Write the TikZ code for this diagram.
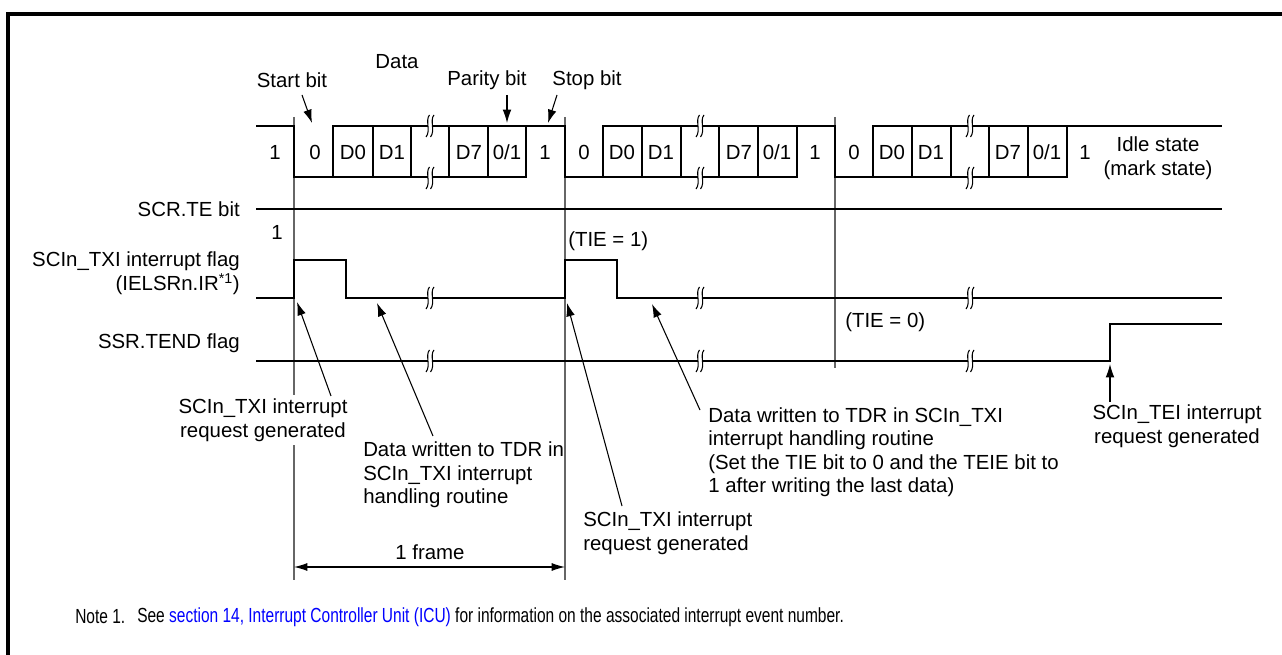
\documentclass[tikz,border=0pt]{standalone}
\usepackage{fontspec}
\setmainfont{Liberation Sans}
\newfontfamily\notefont[FakeStretch=0.76]{Liberation Sans}
\usetikzlibrary{arrows.meta}
\definecolor{linkblue}{RGB}{0,0,255}
\tikzset{
  wave/.style={line width=1.5pt, line cap=rect},
  marker/.style={line width=0.8pt, black!60},
  arr/.style={line width=0.8pt, -{Latex[length=10pt,width=6.5pt]}},
  dimarr/.style={line width=0.8pt, {Latex[length=10pt,width=6pt]}-{Latex[length=10pt,width=6pt]}},
  txt/.style={inner sep=0pt, font=\fontsize{15.3}{17.6}\selectfont},
  brk/.pic={
    \fill[white] (-2.1,-3) rectangle (2.5,3);
    \draw[line width=0.8pt] (-0.5,-11) .. controls (-5,-6) and (1,5) .. (-4,11);
    \draw[line width=0.8pt] (4,-11) .. controls (-0.5,-6) and (5.5,5) .. (0.5,11);
  }
}
\begin{document}
\begin{tikzpicture}[x=0.75pt,y=-0.75pt]
\useasboundingbox (0,0) rectangle (1282,655);
% frame (top and left edges)
\draw[line width=2.3pt] (8,655) -- (8,14) -- (1282,14);

% marker verticals
\draw[marker] (294,117) -- (294,580);
\draw[marker] (565,117) -- (565,580);
\draw[marker] (835,117) -- (835,368);

% ===== TxD waveform =====
% frame 1
\draw[wave] (257,126) -- (294,126) -- (294,177) -- (526,177);
\draw[wave] (333,126) -- (565,126) -- (565,177);
\foreach \x in {333,373,411,449,488,526} \draw[wave] (\x,126) -- (\x,177);
% frame 2
\draw[wave] (565,177) -- (797,177);
\draw[wave] (603,126) -- (835,126) -- (835,177);
\foreach \x in {603,642,681,719,758,797} \draw[wave] (\x,126) -- (\x,177);
% frame 3
\draw[wave] (835,177) -- (1067,177);
\draw[wave] (873,126) -- (1221,126);
\foreach \x in {873,912,951,989,1028,1067} \draw[wave] (\x,126) -- (\x,177);
% break marks on TxD
\foreach \x in {430,700,970} {
  \pic at (\x,126) {brk};
  \pic at (\x,178) {brk};
}

% bit texts
\node[txt] (b1a) at (275,152) {1};
\node[txt] (b0a) at (315,152) {0};
\node[txt] (d0a) at (353,152) {D0};
\node[txt] (d1a) at (392,152) {D1};
\node[txt] (d7a) at (469,152) {D7};
\node[txt] (pa) at (507,152) {0/1};
\node[txt] (sa) at (545,152) {1};
\node[txt] (b0b) at (584,152) {0};
\node[txt] (d0b) at (622,152) {D0};
\node[txt] (d1b) at (661,152) {D1};
\node[txt] (d7b) at (739,152) {D7};
\node[txt] (pb) at (777,152) {0/1};
\node[txt] (sb) at (815,152) {1};
\node[txt] (b0c) at (854,152) {0};
\node[txt] (d0c) at (892,152) {D0};
\node[txt] (d1c) at (931,152) {D1};
\node[txt] (d7c) at (1008,152) {D7};
\node[txt] (pc) at (1047,152) {0/1};
\node[txt] (sc) at (1085,152) {1};
\node[txt, align=center] (idle) at (1158,158) {Idle state\\(mark state)};

% top labels
\node[txt] (data) at (397,62) {Data};
\node[txt] (startbit) at (292,80) {Start bit};
\node[txt] (paritybit) at (487,80) {Parity bit};
\node[txt] (stopbit) at (587,80) {Stop bit};
\coordinate (sb1) at (302,95); \coordinate (sb2) at (312,123);
\coordinate (pb1) at (507,95); \coordinate (pb2) at (507,123);
\coordinate (st1) at (557,95); \coordinate (st2) at (548,123);
\draw[arr] (sb1) -- (sb2);
\draw[arr] (pb1) -- (pb2);
\draw[arr] (st1) -- (st2);

% ===== SCR.TE =====
\node[txt, anchor=east] (scrte) at (240,209) {SCR.TE bit};
\draw[wave, line width=1.1pt] (257,209) -- (1221,209);
\node[txt] (one) at (277,232) {1};

% ===== TXI flag =====
\node[txt, anchor=east, align=right] (txi) at (240,273) {SCIn\_TXI interrupt flag\\(IELSRn.IR\textsuperscript{*1})};
\draw[wave] (257,298) -- (294,298) -- (294,260) -- (346,260) -- (346,298) -- (565,298) -- (565,260) -- (617,260) -- (617,298) -- (1221,298);
\node[txt, anchor=west] (tie1) at (568,241) {(TIE = 1)};
\node[txt, anchor=west] (tie0) at (845,322) {(TIE = 0)};

% ===== TEND =====
\node[txt, anchor=east] (tend) at (240,343) {SSR.TEND flag};
\draw[wave] (257,361) -- (1110,361) -- (1110,324) -- (1221,324);

\foreach \x in {430,700,970} {
  \pic at (\x,298) {brk};
  \pic at (\x,361) {brk};
}

% ===== annotations =====
\node[txt, align=center, fill=white, inner sep=3pt] (n1) at (263,420) {SCIn\_TXI interrupt\\request generated};
\coordinate (a1s) at (331,396); \coordinate (a1e) at (297,302);
\draw[arr] (a1s) -- (a1e);

\node[txt, anchor=west, align=left] (n2) at (363,475) {Data written to TDR in\\SCIn\_TXI interrupt\\handling routine};
\coordinate (a2s) at (433,436); \coordinate (a2e) at (377,303);
\draw[arr] (a2s) -- (a2e);

\node[txt, anchor=west, align=left] (n3) at (583,533) {SCIn\_TXI interrupt\\request generated};
\coordinate (a3s) at (622,506); \coordinate (a3e) at (567,303);
\draw[arr] (a3s) -- (a3e);

\node[txt, anchor=west, align=left] (n4) at (708,452) {Data written to TDR in SCIn\_TXI\\interrupt handling routine\\(Set the TIE bit to 0 and the TEIE bit to\\1 after writing the last data)};
\coordinate (a4s) at (700,410); \coordinate (a4e) at (652,304);
\draw[arr] (a4s) -- (a4e);

\node[txt, align=center] (n5) at (1177,426) {SCIn\_TEI interrupt\\request generated};
\coordinate (a5s) at (1110,402); \coordinate (a5e) at (1110,364);
\draw[arr] (a5s) -- (a5e);

% 1 frame
\node[txt] (frame) at (430,552) {1 frame};
\coordinate (f1) at (294,567); \coordinate (f2) at (565,567);
\draw[dimarr] (f1) -- (f2);

% note
\node[txt, anchor=west] (note) at (75,617) {\notefont Note 1.};
\node[txt, anchor=west] (notetext) at (137,617) {\notefont See \textcolor{linkblue}{section 14, Interrupt Controller Unit (ICU)} for information on the associated interrupt event number.};
\end{tikzpicture}
\end{document}
